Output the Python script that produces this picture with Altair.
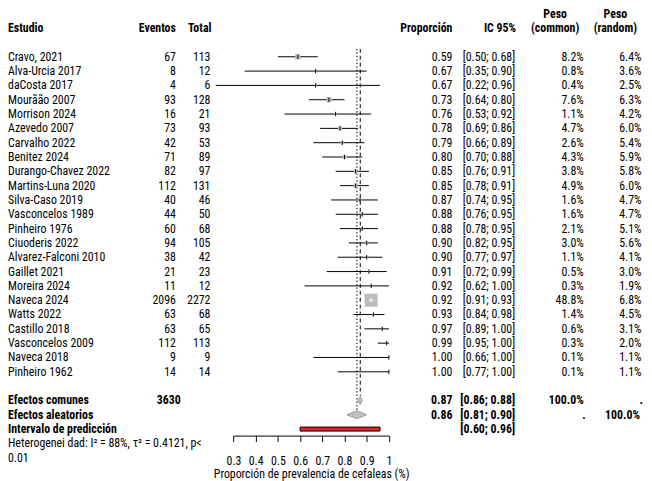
import altair as alt
import pandas as pd

# ---------------- data ----------------
studies = ["Cravo, 2021", "Alva-Urcia 2017", "daCosta 2017", "Mourãão 2007", "Morrison 2024",
           "Azevedo 2007", "Carvalho 2022", "Benitez 2024", "Durango-Chavez 2022", "Martins-Luna 2020",
           "Silva-Caso 2019", "Vasconcelos 1989", "Pinheiro 1976", "Ciuoderis 2022", "Alvarez-Falconi 2010",
           "Gaillet 2021", "Moreira 2024", "Naveca 2024", "Watts 2022", "Castillo 2018",
           "Vasconcelos 2009", "Naveca 2018", "Pinheiro 1962"]
events = [67, 8, 4, 93, 16, 73, 42, 71, 82, 112, 40, 44, 60, 94, 38, 21, 11, 2096, 63, 63, 112, 9, 14]
totals = [113, 12, 6, 128, 21, 93, 53, 89, 97, 131, 46, 50, 68, 105, 42, 23, 12, 2272, 68, 65, 113, 9, 14]
prop = [0.59, 0.67, 0.67, 0.73, 0.76, 0.78, 0.79, 0.80, 0.85, 0.85, 0.87, 0.88, 0.88, 0.90, 0.90,
        0.91, 0.92, 0.92, 0.93, 0.97, 0.99, 1.00, 1.00]
ci_lo = [0.50, 0.35, 0.22, 0.64, 0.53, 0.69, 0.66, 0.70, 0.76, 0.78, 0.74, 0.76, 0.78, 0.82, 0.77,
         0.72, 0.62, 0.91, 0.84, 0.89, 0.95, 0.66, 0.77]
ci_hi = [0.68, 0.90, 0.96, 0.80, 0.92, 0.86, 0.89, 0.88, 0.91, 0.91, 0.95, 0.95, 0.95, 0.95, 0.97,
         0.99, 1.00, 0.93, 0.98, 1.00, 1.00, 1.00, 1.00]
w_common = [8.2, 0.8, 0.4, 7.6, 1.1, 4.7, 2.6, 4.3, 3.8, 4.9, 1.6, 1.6, 2.1, 3.0, 1.1,
            0.5, 0.3, 48.8, 1.4, 0.6, 0.3, 0.1, 0.1]
w_random = [6.4, 3.6, 2.5, 6.3, 4.2, 6.0, 5.4, 5.9, 5.8, 6.0, 4.7, 4.7, 5.1, 5.6, 4.1,
            3.0, 1.9, 6.8, 4.5, 3.1, 2.0, 1.1, 1.1]

total_n = 3630
common_est, common_lo, common_hi = 0.871, 0.86, 0.88
random_est, random_lo, random_hi = 0.856, 0.81, 0.90
pred_lo, pred_hi = 0.60, 0.96
heterogeneity = "Heterogenei dad: I² = 88%, τ² = 0.4121, p<"
heterogeneity2 = "0.01"

# ---------------- helpers ----------------
FONT = "Roboto Condensed, Noto Sans Condensed, DejaVu Sans Condensed, Liberation Sans Narrow, Liberation Sans"
FS = 12
TITLE = "Proporción de prevalencia de cefaleas (%)"


def ypx(r):
    return 46.4 + 14.5 * r


YS = alt.Scale(domain=[-3, 29], range=[ypx(-3), ypx(29)], nice=False, zero=False)
XS = alt.Scale(domain=[0.3, 1.0], range=[228.3, 385.7], nice=False, zero=False)
AX = alt.Axis(values=[0.3, 0.4, 0.5, 0.6, 0.7, 0.8, 0.9, 1.0], format="~g", grid=False,
              domainColor="black", tickColor="black", tickSize=6, domainWidth=1, tickWidth=1,
              labelFont=FONT, labelFontSize=FS, labelColor="black", labelPadding=14,
              labelFlush=False, labelOverlap=False,
              titleFont=FONT, titleFontSize=FS, titleFontWeight="normal",
              titleColor="black", titlePadding=2)


def X(field):
    return alt.X(field, type="quantitative", scale=XS, axis=AX, title=TITLE)


def Y(field="r"):
    return alt.Y(field, type="quantitative", scale=YS, axis=None)


df = pd.DataFrame({
    "study": studies, "ev": events, "n": totals, "p": prop, "lo": ci_lo, "hi": ci_hi,
    "wc": w_common, "wr": w_random,
})
df["r"] = list(range(len(df)))
df["ev_s"] = df["ev"].astype(str)
df["n_s"] = df["n"].astype(str)
df["p_s"] = df["p"].map(lambda v: f"{v:.2f}")
df["ci_s"] = [f"[{a:.2f}; {b:.2f}]" for a, b in zip(df["lo"], df["hi"])]
df["wc_s"] = df["wc"].map(lambda v: f"{v:.1f}%")
df["wr_s"] = df["wr"].map(lambda v: f"{v:.1f}%")
df["sq"] = df["wc"] * 3.6
df["inside"] = df["wc"] > 40


def col(field, x, align, data=df, bold=False):
    return alt.Chart(data).mark_text(
        align=align, baseline="middle", font=FONT, fontSize=FS, color="black",
        fontWeight="bold" if bold else "normal"
    ).encode(x=alt.value(x), y=Y(), text=alt.Text(field, type="nominal"))


def label(t, r, x, align="left", bold=False, italic=False):
    d = pd.DataFrame({"t": [t], "r": [r]})
    return alt.Chart(d).mark_text(
        align=align, baseline="middle", font=FONT, fontSize=FS, color="black",
        fontWeight="bold" if bold else "normal", fontStyle="italic" if italic else "normal"
    ).encode(x=alt.value(x), y=Y(), text="t:N")


# ---------------- forest marks ----------------
vl = pd.DataFrame({"est": [common_est], "top": [-0.55], "bot": [23.68]})
vl2 = pd.DataFrame({"est": [random_est], "top": [-0.55], "bot": [24.72]})

vline_common = alt.Chart(vl).mark_rule(
    color="black", strokeWidth=1, strokeDash=[4, 3]
).encode(x=X("est"), y=Y("top"), y2="bot")

vline_random = alt.Chart(vl2).mark_rule(
    color="black", strokeWidth=1, strokeDash=[1.5, 2]
).encode(x=X("est"), y=Y("top"), y2="bot")

ci_rules = alt.Chart(df).mark_rule(color="black", strokeWidth=1).encode(
    x=X("lo"), x2="hi", y=Y())

squares = alt.Chart(df).mark_point(shape="square", filled=True, color="#bdbdbd",
                                   opacity=1, strokeWidth=0).encode(
    x=X("p"), y=Y(), size=alt.Size("sq", type="quantitative", scale=None, legend=None))

ci_inside = alt.Chart(df[df["inside"]]).mark_rule(
    color="white", strokeWidth=1).encode(x=X("lo"), x2="hi", y=Y())

ticks_out = alt.Chart(df[~df["inside"]]).mark_point(
    shape="M0,-1L0,1", filled=False, strokeWidth=1, opacity=1, size=20, color="black"
).encode(x=X("p"), y=Y())

ticks_in = alt.Chart(df[df["inside"]]).mark_point(
    shape="M0,-1L0,1", filled=False, strokeWidth=1, opacity=1, size=20, color="white"
).encode(x=X("p"), y=Y())

# diamonds built from each summary's lower bound, estimate and upper bound
HH = 0.28
dia_rows = []
for g, e, lo, hi, r in [("common", common_est, common_lo, common_hi, 24),
                        ("random", random_est, random_lo, random_hi, 25)]:
    dia_rows += [{"g": g, "x": lo, "y": r, "y2": r},
                 {"g": g, "x": e, "y": r - HH, "y2": r + HH},
                 {"g": g, "x": hi, "y": r, "y2": r}]
dia = pd.DataFrame(dia_rows)
diamonds = alt.Chart(dia).mark_area(orient="vertical", color="#c0c0c0", stroke="#8a8a8a",
                                    strokeWidth=0.8, opacity=1).encode(
    x=X("x"), y=Y("y"), y2="y2", detail="g:N")

pred = pd.DataFrame({"lo": [pred_lo], "hi": [pred_hi], "y": [26 - 0.14], "y2": [26 + 0.14]})
pred_bar = alt.Chart(pred).mark_rect(color="#e8232b", stroke="black", strokeWidth=1).encode(
    x=X("lo"), x2="hi", y=Y("y"), y2="y2")

# ---------------- text columns ----------------
texts = [
    label("Peso", -3, 554, "center", bold=True),
    label("Peso", -3, 615, "center", bold=True),
    label("Estudio", -2, 0, "left", bold=True),
    label("Eventos", -2, 170, "right", bold=True),
    label("Total", -2, 206, "right", bold=True),
    label("Proporción", -2, 450, "right", bold=True),
    label("IC 95%", -2, 514.5, "right", bold=True),
    label("(common)", -2, 554, "center", bold=True),
    label("(random)", -2, 615, "center", bold=True),
    col("study", 0, "left"),
    col("ev_s", 170, "right"),
    col("n_s", 205, "right"),
    col("p_s", 450, "right"),
    col("ci_s", 513.5, "right"),
    col("wc_s", 583, "right"),
    col("wr_s", 641.5, "right"),
    label("Efectos comunes", 24, 0, bold=True),
    label(str(total_n), 24, 175, "right", bold=True),
    label(f"{common_est:.2f}", 24, 450, "right", bold=True),
    label(f"[{common_lo:.2f}; {common_hi:.2f}]", 24, 513.5, "right", bold=True),
    label("100.0%", 24, 583, "right", bold=True),
    label(".", 24, 643, "right", bold=True),
    label("Efectos aleatorios", 25, 0, bold=True),
    label(f"{random_est:.2f}", 25, 450, "right", bold=True),
    label(f"[{random_lo:.2f}; {random_hi:.2f}]", 25, 513.5, "right", bold=True),
    label(".", 25, 585, "right", bold=True),
    label("100.0%", 25, 640, "right", bold=True),
    label("Intervalo de predicción", 26, 0, bold=True),
    label(f"[{pred_lo:.2f}; {pred_hi:.2f}]", 26, 513.5, "right", bold=True),
    label(heterogeneity, 27, 0),
    label(heterogeneity2, 28, 0),
]

chart = alt.layer(
    vline_common, vline_random, ci_rules, squares, ci_inside, ticks_out, ticks_in,
    diamonds, pred_bar, *texts
).properties(
    width=644, height=430,
    autosize=alt.AutoSizeParams(type="none"),
    padding={"left": 0, "top": 0, "right": 0, "bottom": 43},
    background="white",
).configure_view(stroke=None)

chart.save("out.html", embed_options={"renderer": "svg", "actions": False})
